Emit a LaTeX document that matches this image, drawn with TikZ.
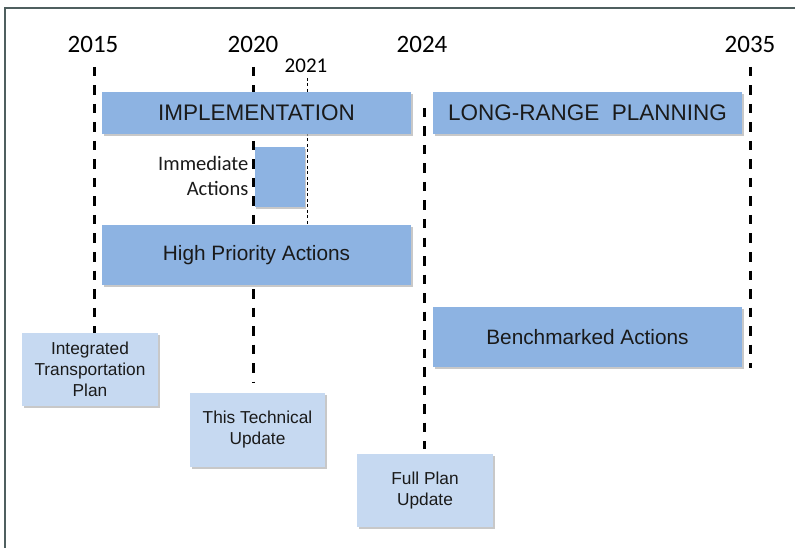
\documentclass[tikz,border=0pt]{standalone}
\usepackage{fontspec}
\setmainfont{Liberation Sans}
\newfontfamily\calfont{Carlito}
\usetikzlibrary{shadows}
\definecolor{darkbox}{HTML}{8DB3E2}
\definecolor{lightbox}{HTML}{C6D9F1}
\definecolor{framecol}{HTML}{4F5F5F}
\definecolor{txt}{HTML}{1A1A1A}
\begin{document}
\begin{tikzpicture}[x=1pt,y=-1pt,
  shadowed/.style={drop shadow={shadow xshift=1.5pt,shadow yshift=-1.8pt,fill=black!30,opacity=0.7}},
  bigbox/.style={shadowed,fill=darkbox,draw=none,inner sep=0pt,text=txt,font=\fontsize{20.8}{24}\selectfont},
  smallbox/.style={shadowed,fill=lightbox,draw=none,inner sep=0pt,text=txt,align=center,font=\fontsize{17.3}{21}\selectfont},
  year/.style={font=\calfont\fontsize{25}{27}\selectfont,text=black,inner sep=0pt},
  timeline/.style={line width=3pt,dash pattern=on 9.5pt off 9pt,black},
  thinline/.style={line width=0.8pt,dash pattern=on 3pt off 2.5pt,black}]
\useasboundingbox (0,0) rectangle (795,548);
\fill[white] (0,0) rectangle (795,548);
% frame
\draw[framecol,line width=1.5pt] (5,552) -- (5,8) -- (800,8);
% year labels
\node[year] (y2015) at (93,44) {2015};
\node[year] (y2020) at (253,44) {2020};
\node[year] (y2024) at (422,44) {2024};
\node[year] (y2035) at (750,44) {2035};
\node[font=\calfont\fontsize{21}{23}\selectfont,inner sep=0pt] (y2021) at (306,66) {2021};
% timeline coordinates
\coordinate (a2015) at (94,67);  \coordinate (b2015) at (94,333);
\coordinate (a2020) at (253,67); \coordinate (b2020) at (253,382);
\coordinate (a2024) at (424,108); \coordinate (b2024) at (424,449);
\coordinate (a2035) at (750,67); \coordinate (b2035) at (750,368);
\coordinate (a2021) at (307,78); \coordinate (b2021) at (307,225);
\draw[timeline] (a2015) -- (b2015);
\draw[timeline] (a2020) -- (b2020);
\draw[timeline] (a2024) -- (b2024);
\draw[timeline] (a2035) -- (b2035);
\draw[thinline] (a2021) -- (b2021);
% dark boxes
\node[bigbox,minimum width=309pt,minimum height=42pt,font=\fontsize{22.5}{26}\selectfont] (impl) at (256.5,113) {IMPLEMENTATION};
\node[bigbox,minimum width=309pt,minimum height=42pt,font=\fontsize{22.5}{26}\selectfont] (lrp) at (587.5,113) {LONG-RANGE\ \ PLANNING};
\node[bigbox,minimum width=50pt,minimum height=60pt] (imm) at (279.5,177) {};
\node[bigbox,minimum width=309pt,minimum height=60pt] (hpa) at (256.5,255) {High Priority Actions};
\node[bigbox,minimum width=309pt,minimum height=60pt] (bma) at (587.5,337) {Benchmarked Actions};
% immediate actions label
\node[anchor=east,align=right,inner sep=0pt,text=txt,font=\calfont\fontsize{20.5}{25}\selectfont] (immlbl) at (248.5,176) {Immediate\\Actions};
% light boxes
\node[smallbox,minimum width=136pt,minimum height=73pt] (itp) at (90,369.5) {Integrated\\Transportation\\Plan};
\node[smallbox,minimum width=135pt,minimum height=74pt] (ttu) at (257.5,430) {This Technical\\Update};
\node[smallbox,minimum width=136pt,minimum height=73pt] (fpu) at (425,490.5) {Full Plan\\Update};
\end{tikzpicture}
\end{document}
